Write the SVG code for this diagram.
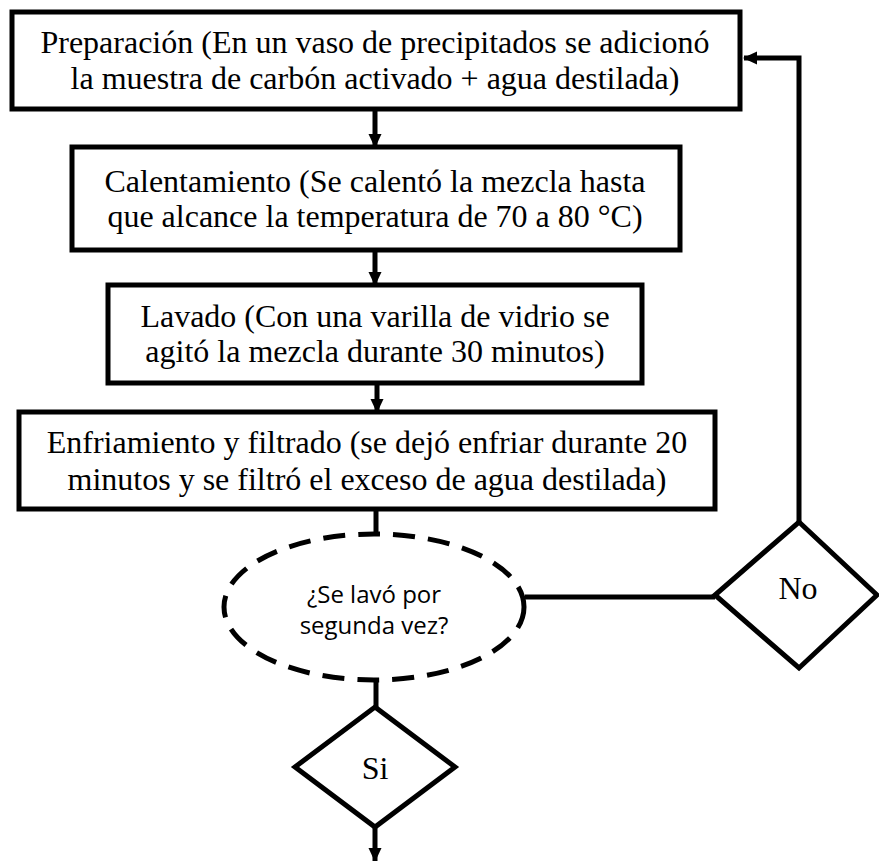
<svg xmlns="http://www.w3.org/2000/svg" width="879" height="861" viewBox="0 0 879 861">
<defs>
<marker id="ah" markerWidth="14" markerHeight="14" refX="13" refY="7" orient="auto" markerUnits="userSpaceOnUse" viewBox="0 0 14 14">
<path d="M0,0.5 L14,7 L0,13.5 z" fill="#000"/>
</marker>
<style>
.box{fill:#fff;stroke:#000;stroke-width:5}
.t{font-family:"Liberation Serif","Times New Roman",serif;font-size:32px;fill:#000;text-anchor:middle}
.c{font-family:"Open Sans","Noto Sans",sans-serif;font-size:24px;fill:#000;text-anchor:middle}
.ln{fill:none;stroke:#000;stroke-width:5}
.dia{fill:#fff;stroke:#000;stroke-width:5;stroke-linejoin:miter}
</style>
</defs>
<rect width="879" height="861" fill="#fff"/>
<g id="connectors">
<line class="ln" x1="375" y1="109" x2="375" y2="147" marker-end="url(#ah)"/>
<line class="ln" x1="375" y1="250" x2="375" y2="285" marker-end="url(#ah)"/>
<line class="ln" x1="377" y1="383" x2="377" y2="412" marker-end="url(#ah)"/>
<line class="ln" x1="376" y1="509" x2="376" y2="534"/>
<line class="ln" x1="376" y1="680" x2="376" y2="707"/>
<line class="ln" x1="525" y1="597" x2="715" y2="597"/>
<polyline class="ln" points="799,522 799,58 744,58" marker-end="url(#ah)"/>
<line class="ln" x1="375" y1="827" x2="375" y2="861" marker-end="url(#ah)"/>
</g>
<g id="n1">
<rect class="box" x="12" y="12" width="728" height="97"/>
<text class="t" x="375" y="53">Preparación (En un vaso de precipitados se adicionó</text>
<text class="t" x="375" y="89">la muestra de carbón activado + agua destilada)</text>
</g>
<g id="n2">
<rect class="box" x="72" y="147" width="608" height="103"/>
<text class="t" x="375" y="192">Calentamiento (Se calentó la mezcla hasta</text>
<text class="t" x="375" y="227">que alcance la temperatura de 70 a 80 °C)</text>
</g>
<g id="n3">
<rect class="box" x="108" y="285" width="534" height="98"/>
<text class="t" x="375" y="327">Lavado (Con una varilla de vidrio se</text>
<text class="t" x="375" y="362">agitó la mezcla durante 30 minutos)</text>
</g>
<g id="n4">
<rect class="box" x="19" y="412" width="696" height="97"/>
<text class="t" x="367" y="453">Enfriamiento y filtrado (se dejó enfriar durante 20</text>
<text class="t" x="367" y="490">minutos y se filtró el exceso de agua destilada)</text>
</g>
<g id="n5">
<ellipse cx="374" cy="607" rx="150" ry="73" fill="#fff" stroke="#000" stroke-width="5" stroke-dasharray="22 13"/>
<text class="c" x="374" y="603">¿Se lavó por</text>
<text class="c" x="374" y="634">segunda vez?</text>
</g>
<g id="n6">
<polygon class="dia" points="799,522 877,595 799,668 715,595"/>
<text class="t" x="798" y="599">No</text>
</g>
<g id="n7">
<polygon class="dia" points="375,707 455,767 375,827 295,767"/>
<text class="t" x="375" y="779">Si</text>
</g>
</svg>
